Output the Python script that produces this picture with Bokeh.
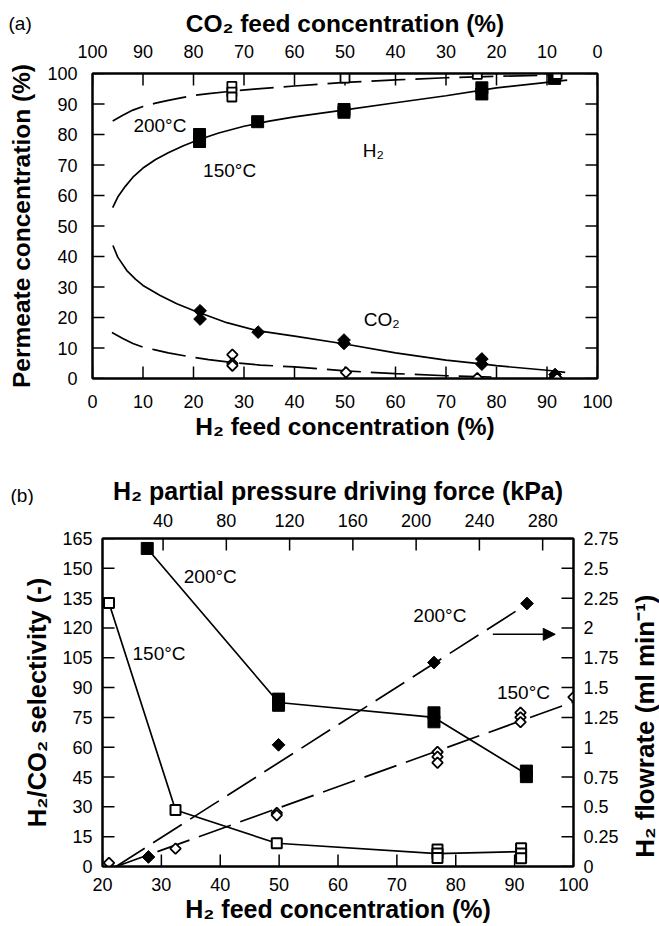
from bokeh.plotting import figure
from bokeh.models import Range1d, LinearAxis, FixedTicker, Arrow, NormalHead
from bokeh.layouts import column, row
from bokeh.embed import file_html
from bokeh.resources import INLINE
from bokeh.core.properties import value
import math

FONT = "Liberation Sans"

# ---------------- panel (a) data ----------------
a_x_ticks = [0, 10, 20, 30, 40, 50, 60, 70, 80, 90, 100]
a_co2_ticks = [100, 90, 80, 70, 60, 50, 40, 30, 20, 10, 0]
a_y_ticks = [0, 10, 20, 30, 40, 50, 60, 70, 80, 90, 100]

h2_150_x = [21.2, 21.2, 32.7, 49.8, 49.8, 77.1, 77.1, 91.5, 91.5]
h2_150_y = [80.0, 77.7, 84.2, 88.2, 87.3, 95.3, 93.3, 99.6, 98.4]
h2_200_x = [27.6, 27.6, 27.6, 50.0, 76.2, 92.0]
h2_200_y = [95.8, 93.9, 92.3, 98.5, 99.7, 99.7]
co2_150_x = [21.3, 21.3, 32.8, 49.8, 49.8, 77.1, 77.1, 91.6, 91.6]
co2_150_y = [22.2, 19.5, 15.2, 12.6, 11.5, 6.4, 4.7, 1.3, 0.3]
co2_200_x = [27.7, 27.7, 27.7, 50.2, 76.2, 92.0]
co2_200_y = [7.8, 4.9, 4.2, 2.0, 0.1, 0.0]

# fitted curves
h2_150_fit_x = [4.0, 5.0, 6.5, 8.0, 10.0, 12.5, 15.0, 18.0, 21.0, 25.0, 30.0, 35.0, 40.0, 50.0, 60.0, 70.0, 80.0, 90.0, 94.0]
h2_150_fit_y = [56.0, 59.5, 63.0, 66.0, 69.0, 71.8, 74.0, 76.3, 78.3, 80.5, 82.7, 84.4, 85.8, 88.1, 90.4, 92.7, 95.3, 97.1, 97.8]
h2_200_fit_x = [4.0, 6.0, 8.0, 10.0, 12.5, 15.0, 17.5, 20.0, 23.0, 27.0, 32.0, 40.0, 50.0, 60.0, 70.0, 80.0, 93.0]
h2_200_fit_y = [84.4, 86.3, 88.0, 89.2, 90.3, 91.2, 92.0, 92.8, 93.4, 94.1, 94.9, 95.9, 97.1, 97.9, 98.6, 99.1, 99.5]
co2_150_fit_x = [4.05, 5.0, 6.8, 8.5, 10.0, 13.4, 16.7, 20.0, 26.6, 32.6, 40.0, 50.0, 60.0, 70.0, 77.0, 80.0, 90.0, 93.6]
co2_150_fit_y = [43.6, 39.8, 35.4, 32.6, 30.5, 27.2, 24.5, 22.3, 18.3, 15.7, 13.9, 11.3, 8.4, 6.0, 4.8, 4.2, 2.7, 2.0]
co2_200_fit_x = [3.85, 6.0, 8.0, 10.1, 12.4, 15.0, 19.4, 23.0, 27.3, 33.2, 40.0, 50.0, 60.0, 70.0, 79.0]
co2_200_fit_y = [15.1, 13.1, 11.5, 10.2, 9.4, 8.4, 7.1, 6.2, 5.3, 4.4, 3.8, 2.5, 1.6, 0.9, 0.5]

a_text = ["200°C", "150°C", "H₂", "CO₂"]
a_text_x = [8.1, 21.9, 53.5, 53.7]
a_text_y = [83.0, 68.2, 74.8, 19.5]

# ---------------- panel (b) data ----------------
b_x_ticks = [20, 30, 40, 50, 60, 70, 80, 90, 100]
b_top_ticks = [40, 80, 120, 160, 200, 240, 280]
b_y_ticks = [0, 15, 30, 45, 60, 75, 90, 105, 120, 135, 150, 165]
b_flow_ticks = [0, 0.25, 0.5, 0.75, 1, 1.25, 1.5, 1.75, 2, 2.25, 2.5, 2.75]
b_flow_labels = ["0", "0.25", "0.5", "0.75", "1", "1.25", "1.5", "1.75", "2", "2.25", "2.5", "2.75"]

sel_200_x = [27.6, 49.9, 49.9, 76.3, 76.3, 92.0, 92.0]
sel_200_y = [160.0, 84.2, 81.1, 77.3, 72.8, 48.0, 45.2]
sel_200_line_x = [27.6, 49.9, 76.3, 92.0]
sel_200_line_y = [160.0, 82.5, 75.0, 46.5]
sel_150_x = [21.1, 32.4, 49.6, 76.9, 76.9, 76.9, 91.1, 91.1, 91.1]
sel_150_y = [132.6, 28.4, 11.7, 8.5, 6.5, 4.3, 9.2, 6.6, 4.1]
sel_150_line_x = [21.1, 32.4, 49.6, 76.9, 91.1]
sel_150_line_y = [132.6, 28.4, 11.7, 6.5, 7.5]

flow_200_x = [27.8, 49.9, 76.3, 92.1]
flow_200_y = [0.08, 1.02, 1.71, 2.205]
flow_200_fit_x = [22.3, 92.1]
flow_200_fit_y = [0.0, 2.2]
flow_150_x = [21.1, 32.4, 49.6, 49.6, 76.9, 76.9, 76.9, 91.0, 91.0, 91.0, 100.0]
flow_150_y = [0.03, 0.15, 0.45, 0.43, 0.96, 0.92, 0.87, 1.29, 1.25, 1.21, 1.42]
flow_150_fit_x = [22.3, 100.0]
flow_150_fit_y = [0.0, 1.38]

b_text = ["200°C", "150°C", "200°C", "150°C"]
b_text_x = [33.8, 25.1, 72.8, 87.0]
b_text_y = [145.7, 107.0, 126.3, 87.7]

DASH = "34 10"
TICK_PX = 12
W = 659


def style_axis(ax, ticks, standoff, title=None, title_standoff=4, show_labels=True,
               overrides=None, title_size="24.5px"):
    ax.ticker = FixedTicker(ticks=ticks)
    ax.minor_tick_line_color = None
    ax.major_tick_in = 0
    ax.major_tick_out = 0
    ax.major_tick_line_color = None
    ax.axis_line_width = 2
    ax.axis_line_color = "black"
    ax.major_label_text_font = FONT
    ax.major_label_text_font_size = "18px"
    ax.major_label_text_color = "black" if show_labels else None
    ax.major_label_standoff = standoff
    if overrides:
        ax.major_label_overrides = overrides
    if title:
        ax.axis_label = title
        ax.axis_label_text_font = FONT
        ax.axis_label_text_font_size = title_size
        ax.axis_label_text_font_style = "bold"
        ax.axis_label_text_color = "black"
        ax.axis_label_standoff = title_standoff


def base_fig(w, h, xr, yr, left, right, top, bottom):
    p = figure(width=w, height=h, x_range=xr, y_range=yr,
               x_axis_type=None, y_axis_type=None,
               toolbar_location=None, output_backend="svg",
               min_border_left=left, min_border_right=right,
               min_border_top=top, min_border_bottom=bottom)
    p.frame_align = False
    p.outline_line_color = "black"
    p.outline_line_width = 2
    p.background_fill_color = "white"
    p.border_fill_color = "white"
    return p


def blank(w, h):
    """Plain band (no axes) whose data units are its own pixels, y measured from the top."""
    s = figure(width=w, height=h, x_range=Range1d(0, w), y_range=Range1d(h, 0),
               x_axis_type=None, y_axis_type=None, toolbar_location=None,
               output_backend="svg", min_border=0, min_border_left=0,
               min_border_right=0, min_border_top=0, min_border_bottom=0)
    s.frame_align = False
    s.outline_line_color = None
    s.background_fill_color = "white"
    s.border_fill_color = "white"
    return s


def strip(h, letter, letter_x, letter_y, title, title_x, title_y, title_size):
    s = blank(W, h)
    s.text([letter_x], [letter_y], text=[letter], text_font=value(FONT), text_font_size="19px",
           text_color="black", text_align="left", text_baseline="middle")
    s.text([title_x], [title_y], text=[title], text_font=value(FONT), text_font_size=title_size,
           text_font_style="bold", text_color="black", text_align="center", text_baseline="middle")
    return s


def inner_ticks(p, xt, xtop, yl, yr, lx, ly, top_name="default", right_name="default"):
    """Tick marks drawn inside the frame, from the tick lists."""
    x0, x1 = p.x_range.start, p.x_range.end
    y0, y1 = p.y_range.start, p.y_range.end
    kw = dict(line_color="black", line_width=1.5)
    p.segment(x0=xt, y0=[y0] * len(xt), x1=xt, y1=[y0 + ly] * len(xt), **kw)
    p.segment(x0=[x0] * len(yl), y0=yl, x1=[x0 + lx] * len(yl), y1=yl, **kw)
    kt = dict(kw)
    if top_name != "default":
        kt["x_range_name"] = top_name
    p.segment(x0=xtop, y0=[y1] * len(xtop), x1=xtop, y1=[y1 - ly] * len(xtop), **kt)
    kr = dict(kw)
    if right_name != "default":
        kr["y_range_name"] = right_name
    p.segment(x0=[x1] * len(yr), y0=yr, x1=[x1 - lx] * len(yr), y1=yr, **kr)


def diamond(p, xs, ys, filled, size, y_range_name="default"):
    kw = dict(marker="square", angle=math.pi / 4, size=size, line_color="black")
    if filled:
        kw.update(fill_color="black", line_width=1)
    else:
        kw.update(fill_color="white", line_width=1.8)
    if y_range_name != "default":
        kw["y_range_name"] = y_range_name
    p.scatter(xs, ys, **kw)


# ================= panel (a) =================
SA_H = 37
A_H, A_L, A_R, A_T, A_B = 423, 92, 62, 36, 82
a_fw = W - A_L - A_R
a_fh = A_H - A_T - A_B
sa = strip(SA_H, "(a)", 8, 23, "CO₂ feed concentration (%)", A_L + a_fw / 2, 23, "24.5px")

pa = base_fig(W, A_H, Range1d(0, 100), Range1d(0, 100), A_L, A_R, A_T, A_B)
pa.extra_x_ranges = {"co2": Range1d(100, 0)}

ax_b = LinearAxis()
style_axis(ax_b, a_x_ticks, 16, "H₂ feed concentration (%)", 2)
pa.add_layout(ax_b, "below")
ax_t = LinearAxis(x_range_name="co2")
style_axis(ax_t, a_co2_ticks, 16, None)
pa.add_layout(ax_t, "above")
ax_l = LinearAxis()
style_axis(ax_l, a_y_ticks, 15, "Permeate concentration (%)", 9)
pa.add_layout(ax_l, "left")
ax_r = LinearAxis()
style_axis(ax_r, a_y_ticks, 5, None, show_labels=False)
pa.add_layout(ax_r, "right")

inner_ticks(pa, a_x_ticks, a_co2_ticks, a_y_ticks, a_y_ticks,
            TICK_PX * 100 / a_fw, TICK_PX * 100 / a_fh, top_name="co2")

pa.line(h2_150_fit_x, h2_150_fit_y, line_color="black", line_width=1.7)
pa.line(h2_200_fit_x, h2_200_fit_y, line_color="black", line_width=1.7, line_dash=DASH)
pa.line(co2_150_fit_x, co2_150_fit_y, line_color="black", line_width=1.7)
pa.line(co2_200_fit_x, co2_200_fit_y, line_color="black", line_width=1.7, line_dash=DASH)

pa.scatter(h2_150_x, h2_150_y, marker="square", size=12, fill_color="black", line_color="black")
pa.scatter(h2_200_x, h2_200_y, marker="square", size=9, fill_color="white", line_color="black", line_width=1.8)
diamond(pa, co2_150_x, co2_150_y, True, 9)
diamond(pa, co2_200_x, co2_200_y, False, 7.5)

pa.text(a_text_x, a_text_y, text=a_text, text_font=value(FONT), text_font_size="19px",
        text_color="black", text_align="left", text_baseline="middle")

# ================= panel (b) =================
SB_H = 45
RS_W = 31
B_W = W - RS_W
B_H, B_L, B_R, B_T, B_B = 421, 102, 55, 33, 60
b_fw = B_W - B_L - B_R
b_fh = B_H - B_T - B_B
sb = strip(SB_H, "(b)", 10, 35, "H₂ partial pressure driving force (kPa)", B_L + b_fw / 2, 30, "25px")

pb = base_fig(B_W, B_H, Range1d(20, 100), Range1d(0, 165), B_L, B_R, B_T, B_B)
pb.extra_x_ranges = {"kpa": Range1d(1.7, 299.5)}
pb.extra_y_ranges = {"flow": Range1d(0, 2.75)}

bx_b = LinearAxis()
style_axis(bx_b, b_x_ticks, 11, "H₂ feed concentration (%)", 1, title_size="25px")
pb.add_layout(bx_b, "below")
bx_t = LinearAxis(x_range_name="kpa")
style_axis(bx_t, b_top_ticks, 12, None)
pb.add_layout(bx_t, "above")
by_l = LinearAxis()
style_axis(by_l, b_y_ticks, 10, "H₂/CO₂ selectivity (-)", 8, title_size="25.5px")
pb.add_layout(by_l, "left")
by_r = LinearAxis(y_range_name="flow")
style_axis(by_r, b_flow_ticks, 10, None,
           overrides={t: s for t, s in zip(b_flow_ticks, b_flow_labels)})
pb.add_layout(by_r, "right")

inner_ticks(pb, b_x_ticks, b_top_ticks, b_y_ticks, b_flow_ticks,
            TICK_PX * 80 / b_fw, TICK_PX * 165 / b_fh, top_name="kpa", right_name="flow")

pb.line(sel_200_line_x, sel_200_line_y, line_color="black", line_width=1.7)
pb.line(sel_150_line_x, sel_150_line_y, line_color="black", line_width=1.7)
pb.line(flow_200_fit_x, flow_200_fit_y, y_range_name="flow", line_color="black", line_width=1.7, line_dash=DASH)
pb.line(flow_150_fit_x, flow_150_fit_y, y_range_name="flow", line_color="black", line_width=1.7, line_dash=DASH)

pb.scatter(sel_200_x, sel_200_y, marker="square", size=12, fill_color="black", line_color="black")
pb.scatter(sel_150_x, sel_150_y, marker="square", size=10, fill_color="white", line_color="black", line_width=2)
diamond(pb, flow_200_x, flow_200_y, True, 9, "flow")
diamond(pb, flow_150_x, flow_150_y, False, 7.5, "flow")

pb.text(b_text_x, b_text_y, text=b_text, text_font=value(FONT), text_font_size="19px",
        text_color="black", text_align="left", text_baseline="middle")
pb.add_layout(Arrow(end=NormalHead(size=12, fill_color="black", line_color="black"),
                    x_start=86.3, y_start=116.8, x_end=96.9, y_end=116.8,
                    line_color="black", line_width=1.6))

# right-hand axis title band, beside panel (b)
rs = blank(RS_W, B_H)
rs.text([16], [217], text=["H₂ flowrate  (ml min⁻¹)"], angle=math.pi / 2,
        text_font=value(FONT), text_font_size="26px", text_font_style="bold",
        text_color="black", text_align="center", text_baseline="middle")

layout = column(sa, pa, sb, row(pb, rs))
open("out.html", "w").write(file_html(layout, INLINE))
